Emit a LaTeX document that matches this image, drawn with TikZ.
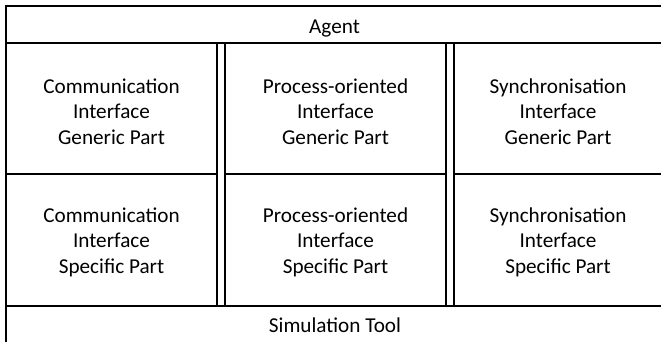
\documentclass[tikz,border=0pt]{standalone}
\usepackage{fontspec}
\setmainfont{Carlito}
\begin{document}
\begin{tikzpicture}[x=1pt,y=-1pt,
  rule/.style={line width=2pt,draw=black,line cap=rect},
  divider/.style={line width=1.8pt,draw=black},
  label/.style={inner sep=0pt,anchor=base,font=\fontsize{21.2}{25.6}\selectfont},
  cell/.style={label,align=center}]
\useasboundingbox (0,0) rectangle (661,342);
\fill[white] (0,0) rectangle (661,342);
\begin{scope}
\clip (0,0) rectangle (661,342);
% outer frame (right and bottom edges fall outside the page)
\draw[rule] (6,350) -- (6,6) -- (670,6);
\draw[rule] (6,43.5) -- (670,43.5);
\draw[rule] (6,306) -- (670,306);
% horizontal split between the generic and the specific parts
\draw[rule,line cap=butt] (6,174) -- (217,174);
\draw[rule,line cap=butt] (225,174) -- (446,174);
\draw[rule,line cap=butt] (454,174) -- (670,174);
% double separators between the three interfaces
\foreach \x in {217,225,446,454}
  \draw[divider] (\x,43.5) -- (\x,306);
\end{scope}

\node[label] (agent) at (334.5,34) {Agent};
\node[label] (tool) at (335,332.5) {Simulation Tool};

% multi-line labels sit on the baseline of their last line
\node[cell] (comgen) at (111.5,144.3) {Communication\\Interface\\Generic Part};
\node[cell] (progen) at (335.5,144.3) {Process-oriented\\Interface\\Generic Part};
\node[cell] (syngen) at (558,144.3) {Synchronisation\\Interface\\Generic Part};

\node[cell] (comspec) at (111.5,273.3) {Communication\\Interface\\Specific Part};
\node[cell] (prospec) at (335.5,273.3) {Process-oriented\\Interface\\Specific Part};
\node[cell] (synspec) at (558,273.3) {Synchronisation\\Interface\\Specific Part};
\end{tikzpicture}
\end{document}
